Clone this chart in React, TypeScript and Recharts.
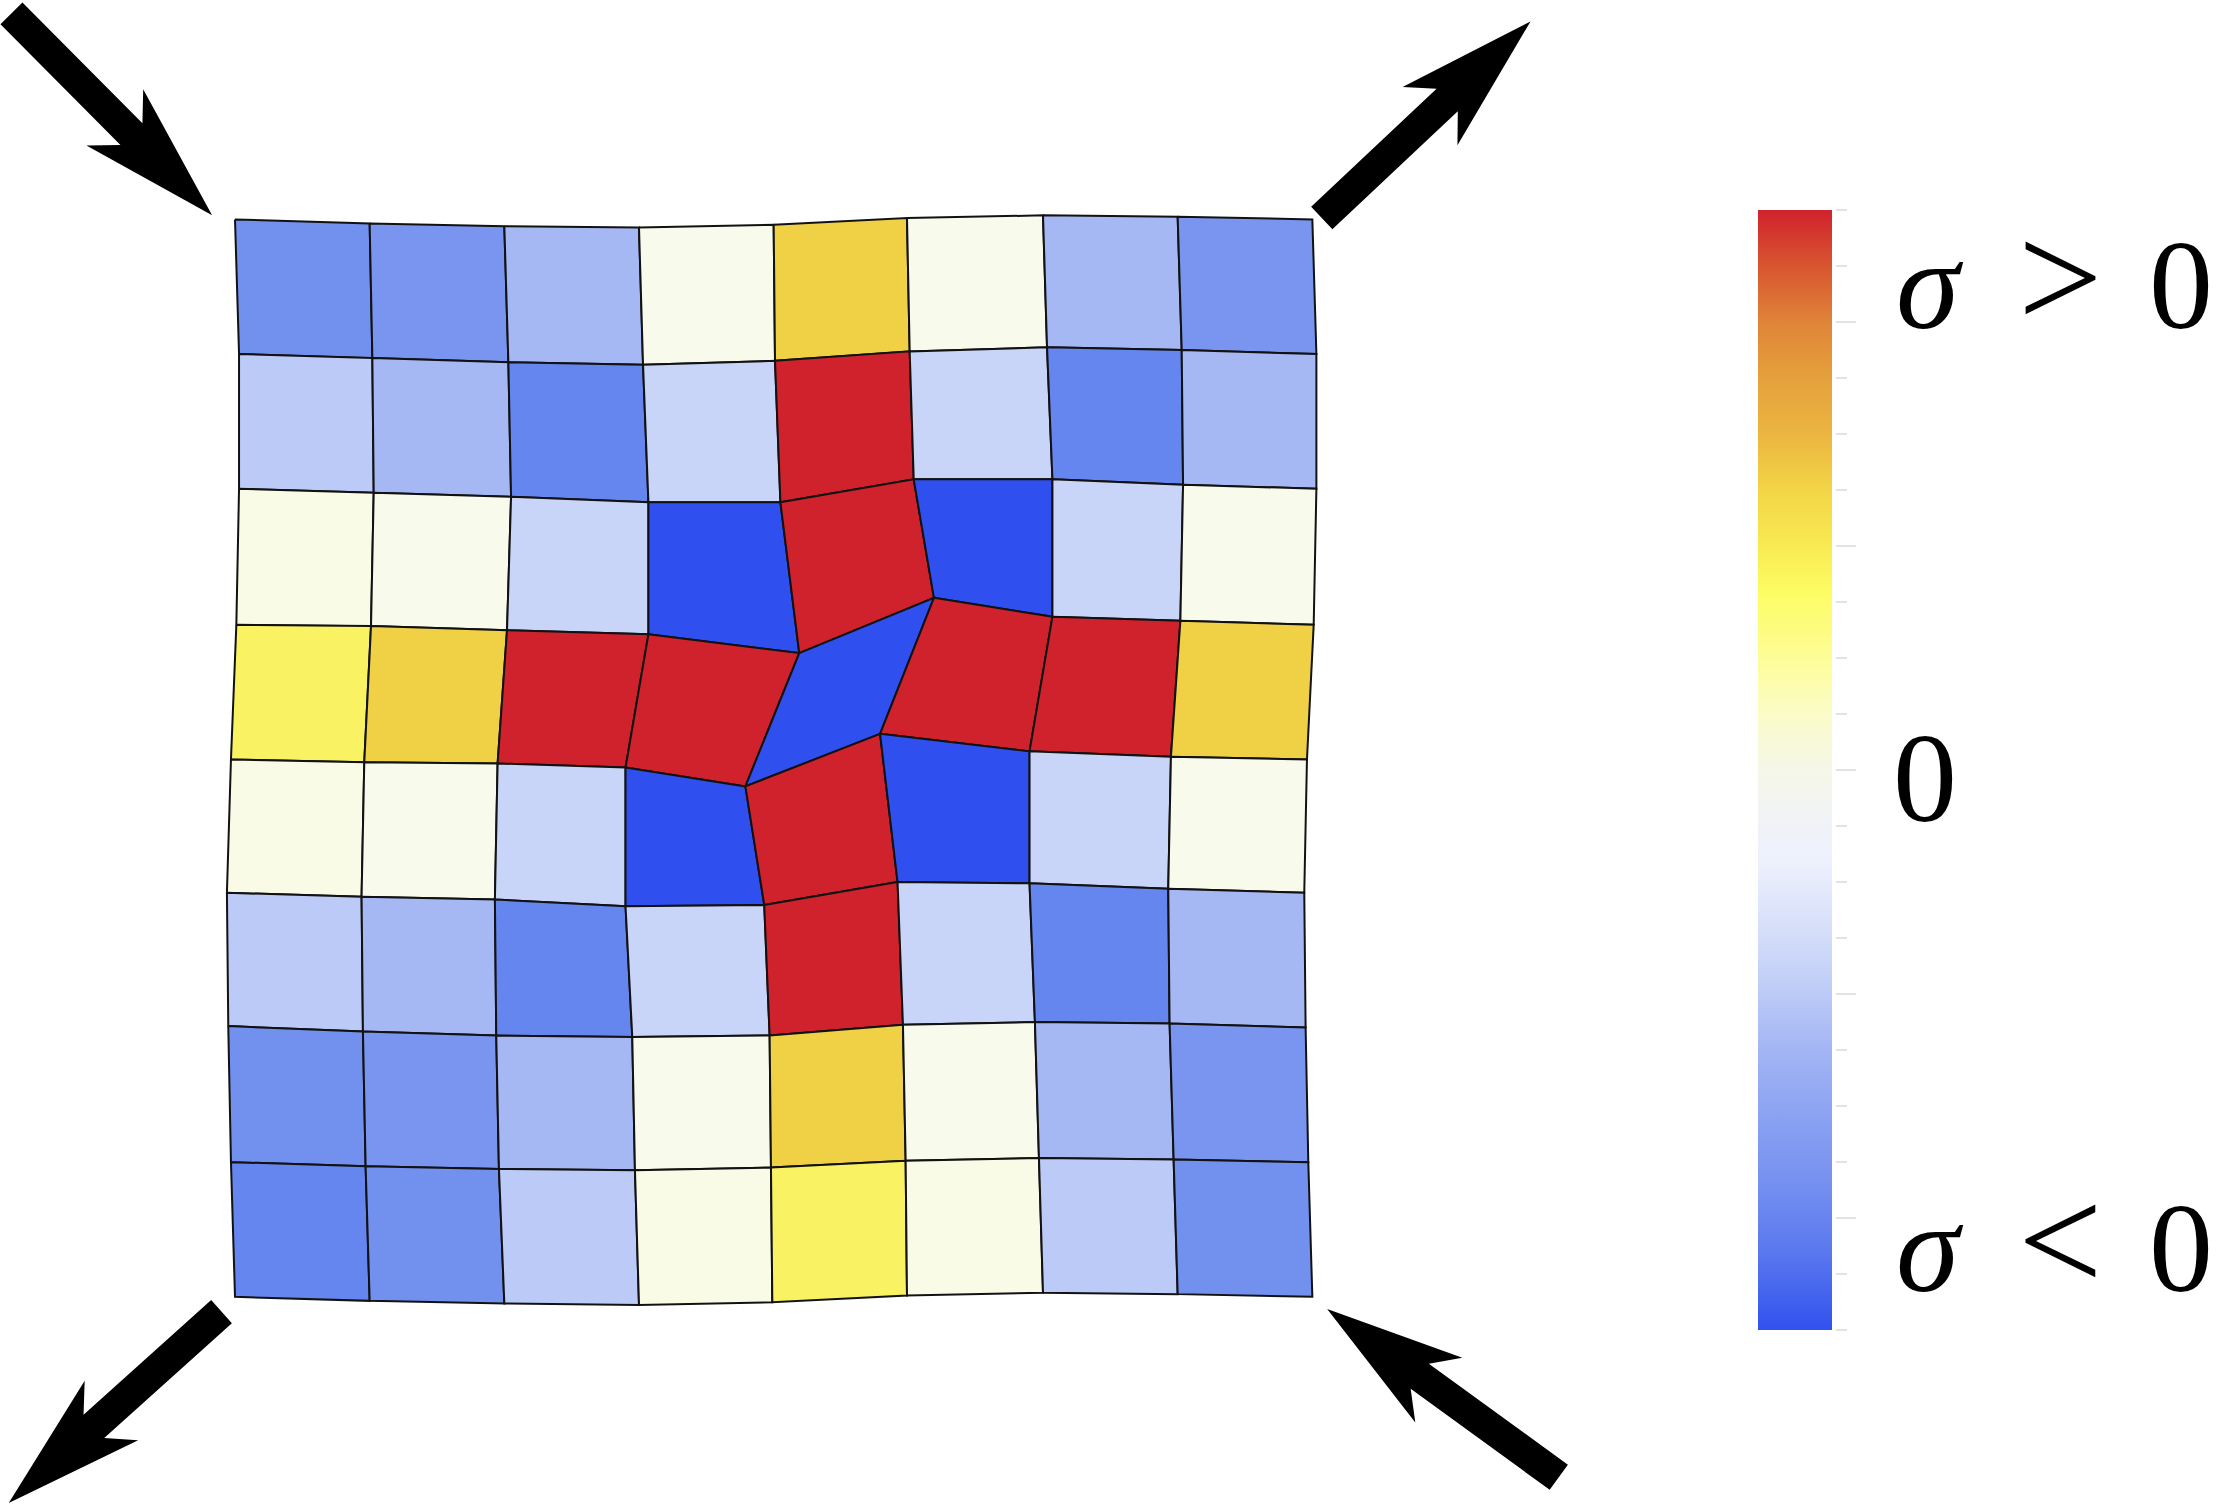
import React from "react";
import { ComposedChart, ReferenceArea, Scatter, XAxis, YAxis } from "recharts";

// deformed lattice nodes, rows from the top edge, in undeformed cell units
const nodeX = [
  [0, 1.0, 2.0, 3.0, 4.0, 4.99, 6.0, 7.0, 8.0],
  [0.03, 1.02, 2.03, 3.03, 4.01, 5.01, 6.03, 7.03, 8.03],
  [0.03, 1.03, 2.05, 3.07, 4.05, 5.04, 6.07, 7.04, 8.03],
  [0.01, 1.01, 2.02, 3.07, 4.19, 5.19, 6.07, 7.02, 8.01],
  [-0.03, 0.96, 1.95, 2.9, 3.79, 4.79, 5.9, 6.95, 7.96],
  [-0.06, 0.94, 1.93, 2.9, 3.93, 4.92, 5.9, 6.93, 7.94],
  [-0.05, 0.95, 1.94, 2.95, 3.97, 4.96, 5.94, 6.94, 7.95],
  [-0.03, 0.97, 1.96, 2.97, 3.98, 4.98, 5.97, 6.97, 7.97],
  [0, 1.0, 2.0, 3.0, 3.99, 4.99, 6.0, 7.0, 8.0],
];
const nodeY = [
  [8.0, 7.97, 7.95, 7.94, 7.96, 8.01, 8.03, 8.02, 8.0],
  [7.0, 6.97, 6.94, 6.92, 6.95, 7.02, 7.05, 7.03, 7.0],
  [6.0, 5.97, 5.94, 5.9, 5.9, 6.07, 6.07, 6.03, 6.0],
  [4.99, 4.98, 4.95, 4.92, 4.78, 5.19, 5.05, 5.02, 4.99],
  [3.99, 3.97, 3.96, 3.93, 3.79, 4.18, 4.05, 4.01, 3.99],
  [3.0, 2.97, 2.95, 2.9, 2.91, 3.08, 3.07, 3.03, 3.0],
  [2.01, 1.97, 1.94, 1.93, 1.94, 2.02, 2.04, 2.03, 2.0],
  [1.0, 0.97, 0.95, 0.94, 0.96, 1.01, 1.03, 1.02, 1.0],
  [0, -0.03, -0.05, -0.06, -0.04, 0.01, 0.03, 0.02, 0],
];

// stress level of each cell (rows from the top)
const cellStress = [
  ["M2", "M1", "L3", "C", "O", "C", "L3", "M1"],
  ["L2", "L3", "D", "L1", "R", "L1", "D", "L3"],
  ["W", "C", "L1", "B", "R", "B", "L1", "C"],
  ["Y", "O", "R", "R", "B", "R", "R", "O"],
  ["W", "C", "L1", "B", "R", "B", "L1", "C"],
  ["L2", "L3", "D", "L1", "R", "L1", "D", "L3"],
  ["M2", "M1", "L3", "C", "O", "C", "L3", "M1"],
  ["D", "M2", "L2", "W", "Y", "W", "L2", "M2"],
];

const stressColors: Record<string, string> = {
  R: "#cf222d",
  O: "#f0d045",
  Y: "#f9f263",
  W: "#fafbe6",
  C: "#f8fbec",
  L1: "#c9d5f8",
  L2: "#bccaf7",
  L3: "#a6b8f4",
  M1: "#7995f0",
  M2: "#7290ee",
  D: "#6585ef",
  B: "#2f50ee",
};

// applied load arrows (tail -> tip)
const arrowTails = [
  [-1.66, 9.53],
  [8.07, 8.01],
  [-0.1, -0.11],
  [9.83, -1.34],
];
const arrowTips = [
  [-0.17, 8.03],
  [9.62, 9.47],
  [-1.68, -1.53],
  [8.11, -0.09],
];

// colour legend
const sigmaTicks = [
  -1, -0.9, -0.8, -0.7, -0.6, -0.5, -0.4, -0.3, -0.2, -0.1, 0, 0.1, 0.2, 0.3, 0.4, 0.5, 0.6, 0.7, 0.8, 0.9, 1,
];
const sigmaLabels = [
  { x: 1, y: 0.866, parts: ["σ", ">", "0"] },
  { x: 1, y: -0.014, parts: ["0"] },
  { x: 1, y: -0.853, parts: ["σ", "<", "0"] },
];
const scaleStops = [
  [0, "#d0222d"],
  [0.05, "#d85530"],
  [0.1, "#df8438"],
  [0.15, "#e5a13c"],
  [0.2, "#ebb540"],
  [0.25, "#f2d546"],
  [0.3, "#f8ea52"],
  [0.34, "#fdfc63"],
  [0.4, "#fdfd98"],
  [0.45, "#fbfcc8"],
  [0.5, "#f5f7e8"],
  [0.55, "#f0f2f8"],
  [0.58, "#eef1fd"],
  [0.65, "#d3dcf9"],
  [0.7, "#bccaf7"],
  [0.75, "#a3b5f4"],
  [0.8, "#8ea5f2"],
  [0.87, "#7590f0"],
  [0.93, "#5a78ee"],
  [1, "#3152ee"],
];

type Pt = { x: number; y: number };

const cells = cellStress.flatMap((row, j) =>
  row.map((level, i) => {
    const corners: Pt[] = [
      { x: nodeX[j][i], y: nodeY[j][i] },
      { x: nodeX[j][i + 1], y: nodeY[j][i + 1] },
      { x: nodeX[j + 1][i + 1], y: nodeY[j + 1][i + 1] },
      { x: nodeX[j + 1][i], y: nodeY[j + 1][i] },
    ];
    return { key: `c${j}-${i}`, color: stressColors[level], points: [...corners, corners[0]] };
  })
);

const SHAFT = 0.115;
const HEAD_BACK = 1.025;
const NOTCH_BACK = 0.85;
const HEAD_HALF = 0.297;

function arrowOutline(tail: number[], tip: number[]): Pt[] {
  const dx = tip[0] - tail[0];
  const dy = tip[1] - tail[1];
  const len = Math.hypot(dx, dy);
  const ux = dx / len;
  const uy = dy / len;
  const nx = -uy;
  const ny = ux;
  const at = (back: number, side: number): Pt => ({
    x: tip[0] - ux * back + nx * side,
    y: tip[1] - uy * back + ny * side,
  });
  const start = { x: tail[0] + nx * SHAFT, y: tail[1] + ny * SHAFT };
  return [
    start,
    at(NOTCH_BACK, SHAFT),
    at(HEAD_BACK, HEAD_HALF),
    { x: tip[0], y: tip[1] },
    at(HEAD_BACK, -HEAD_HALF),
    at(NOTCH_BACK, -SHAFT),
    { x: tail[0] - nx * SHAFT, y: tail[1] - ny * SHAFT },
    start,
  ];
}

const arrows = arrowTails.map((tail, k) => ({ key: `a${k}`, points: arrowOutline(tail, arrowTips[k]) }));

const NoDot = () => null;

function ScaleTick(props: any) {
  const { x, y, payload } = props;
  const major = Math.round(payload.value * 10) % 4 === 0;
  return <line x1={x + 4} x2={x + (major ? 24 : 15)} y1={y} y2={y} stroke="#d2d2d2" strokeWidth={1.3} />;
}

function ScaleLabel(props: any) {
  const { cx, cy, payload } = props;
  const offsets = payload.parts.length === 1 ? [61] : [64, 186, 317];
  return (
    <text y={cy + 43} fontFamily="'Liberation Serif', serif" fontSize={128} fill="#000">
      {payload.parts.map((p: string, k: number) => (
        <tspan
          key={k}
          x={cx + offsets[k]}
          fontStyle={p === "σ" ? "italic" : "normal"}
          fontSize={p === ">" || p === "<" ? 150 : 128}
        >
          {p}
        </tspan>
      ))}
    </text>
  );
}

export default function App() {
  return (
    <div style={{ position: "absolute", left: 0, top: 0, width: 2217, height: 1508, background: "#fff" }}>
      <div style={{ position: "absolute", left: 0, top: 0 }}>
        <ComposedChart width={1600} height={1508} margin={{ top: 0, right: 0, bottom: 0, left: 0 }}>
          <XAxis type="number" dataKey="x" domain={[-1.745, 10.136]} allowDataOverflow hide />
          <YAxis type="number" dataKey="y" domain={[-1.568, 9.629]} allowDataOverflow hide />
          {cells.map((c) => (
            <Scatter
              key={c.key}
              data={c.points}
              shape={NoDot}
              line={{ fill: c.color, stroke: "#121212", strokeWidth: 2, strokeLinejoin: "miter" }}
              lineType="joint"
              isAnimationActive={false}
            />
          ))}
          {arrows.map((a) => (
            <Scatter
              key={a.key}
              data={a.points}
              shape={NoDot}
              line={{ fill: "#000", stroke: "none" }}
              lineType="joint"
              isAnimationActive={false}
            />
          ))}
        </ComposedChart>
      </div>
      <div style={{ position: "absolute", left: 1740, top: 190 }}>
        <ComposedChart width={477} height={1160} margin={{ top: 20, right: 345, bottom: 20, left: 18 }}>
          <defs>
            <linearGradient id="sigmaScale" x1="0" y1="0" x2="0" y2="1">
              {scaleStops.map(([o, col]) => (
                <stop key={String(o)} offset={o as number} stopColor={col as string} />
              ))}
            </linearGradient>
          </defs>
          <XAxis type="number" dataKey="x" domain={[0, 1]} hide />
          <YAxis
            type="number"
            dataKey="y"
            domain={[-1, 1]}
            ticks={sigmaTicks}
            interval={0}
            orientation="right"
            width={40}
            axisLine={false}
            tickLine={false}
            tickSize={0}
            tickMargin={0}
            tick={<ScaleTick />}
          />
          <ReferenceArea x1={0} x2={1} y1={-1} y2={1} fill="url(#sigmaScale)" fillOpacity={1} stroke="none" ifOverflow="visible" />
          <Scatter data={sigmaLabels} shape={ScaleLabel} isAnimationActive={false} />
        </ComposedChart>
      </div>
    </div>
  );
}
